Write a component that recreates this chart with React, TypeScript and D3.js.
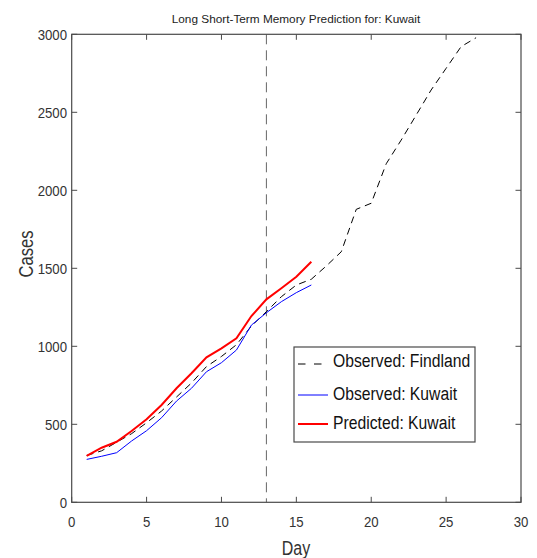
import React from "react";
import * as d3 from "d3";

// Daily cumulative cases
const findlandObserved = [300, 330, 385, 440, 510, 585, 675, 765, 870, 935, 1010, 1130, 1222, 1318, 1393, 1430, 1515, 1606, 1878, 1917, 2170, 2322, 2482, 2643, 2782, 2921, 2978];
const kuwaitObserved = [275, 295, 318, 393, 459, 542, 649, 731, 837, 895, 976, 1136, 1215, 1286, 1344, 1393];
const kuwaitPredicted = [297, 350, 388, 457, 532, 624, 731, 827, 929, 987, 1051, 1194, 1301, 1372, 1446, 1542];
const splitDay = 13;

const xTicks = [0, 5, 10, 15, 20, 25, 30];
const yTicks = [0, 500, 1000, 1500, 2000, 2500, 3000];

const legendItems = [
  { label: "Observed: Findland", color: "#000", width: 1, dash: "7.5 8.5" },
  { label: "Observed: Kuwait", color: "#0000ff", width: 1, dash: undefined },
  { label: "Predicted: Kuwait", color: "#ff0000", width: 2, dash: undefined },
];

const W = 537;
const H = 558;
const m = { left: 71.7, right: 521, top: 34.3, bottom: 502.3 };
const FONT = "'Liberation Sans', Arial, sans-serif";
const AXIS = "#4a4a4a";

// Horizontally condensed text, anchored at (x, y)
function NText({
  x,
  y,
  s = 0.85,
  rotate = 0,
  children,
  ...rest
}: {
  x: number;
  y: number;
  s?: number;
  rotate?: number;
  children: React.ReactNode;
  [k: string]: unknown;
}) {
  return (
    <g transform={`translate(${x},${y}) rotate(${rotate}) scale(${s},1)`}>
      <text x={0} y={0} {...rest}>
        {children}
      </text>
    </g>
  );
}

export default function App() {
  const x = d3.scaleLinear().domain([0, 30]).range([m.left, m.right]);
  const y = d3.scaleLinear().domain([0, 3000]).range([m.bottom, m.top]);
  const line = d3
    .line<number>()
    .x((_, i) => x(i + 1))
    .y((d) => y(d));

  const tickLen = 5.5;

  return (
    <svg
      width={W}
      height={H}
      style={{ position: "absolute", left: 0, top: 0, background: "#fff" }}
      fontFamily={FONT}
    >
      <rect width={W} height={H} fill="#fff" />
      <text x={296} y={23} textAnchor="middle" fontSize={11.8} fill="#222">
        Long Short-Term Memory Prediction for: Kuwait
      </text>

      {/* split marker */}
      <line
        x1={x(splitDay)}
        x2={x(splitDay)}
        y1={m.top}
        y2={m.bottom}
        stroke="#666"
        strokeWidth={1}
        strokeDasharray="10 6"
      />

      {/* series */}
      <path d={line(findlandObserved) ?? ""} fill="none" stroke="#000" strokeWidth={1} strokeDasharray="7 5" />
      <path d={line(kuwaitObserved) ?? ""} fill="none" stroke="#0000ff" strokeWidth={1} />
      <path d={line(kuwaitPredicted) ?? ""} fill="none" stroke="#ff0000" strokeWidth={2} />

      {/* frame */}
      <rect
        x={m.left}
        y={m.top}
        width={m.right - m.left}
        height={m.bottom - m.top}
        fill="none"
        stroke={AXIS}
        strokeWidth={1.2}
      />

      {/* x ticks */}
      {xTicks.map((t) => (
        <g key={"x" + t}>
          <line x1={x(t)} x2={x(t)} y1={m.bottom} y2={m.bottom - tickLen} stroke={AXIS} />
          <line x1={x(t)} x2={x(t)} y1={m.top} y2={m.top + tickLen} stroke={AXIS} />
          <NText x={x(t)} y={526.5} s={0.88} textAnchor="middle" fontSize={15} fill="#333">
            {t}
          </NText>
        </g>
      ))}

      {/* y ticks */}
      {yTicks.map((t) => (
        <g key={"y" + t}>
          <line x1={m.left} x2={m.left + tickLen} y1={y(t)} y2={y(t)} stroke={AXIS} />
          <line x1={m.right} x2={m.right - tickLen} y1={y(t)} y2={y(t)} stroke={AXIS} />
          <NText x={67} y={y(t) + 5.5} s={0.88} textAnchor="end" fontSize={15} fill="#333">
            {t}
          </NText>
        </g>
      ))}

      <NText x={296} y={555} s={0.8} textAnchor="middle" fontSize={20} fill="#333">
        Day
      </NText>
      <NText x={33} y={254} s={0.83} rotate={-90} textAnchor="middle" fontSize={20} fill="#333">
        Cases
      </NText>

      {/* legend */}
      <g>
        <rect x={294} y={347} width={181} height={95} fill="#fff" stroke={AXIS} strokeWidth={1.2} />
        {legendItems.map((it, i) => {
          const ly = [364, 395, 424][i];
          return (
            <g key={it.label}>
              <line
                x1={298}
                x2={it.dash ? 323 : 328}
                y1={ly}
                y2={ly}
                stroke={it.color}
                strokeWidth={it.width}
                strokeDasharray={it.dash}
              />
              <NText x={333} y={[367, 400, 429][i]} s={0.85} fontSize={18.5} fill="#111">
                {it.label}
              </NText>
            </g>
          );
        })}
      </g>
    </svg>
  );
}
